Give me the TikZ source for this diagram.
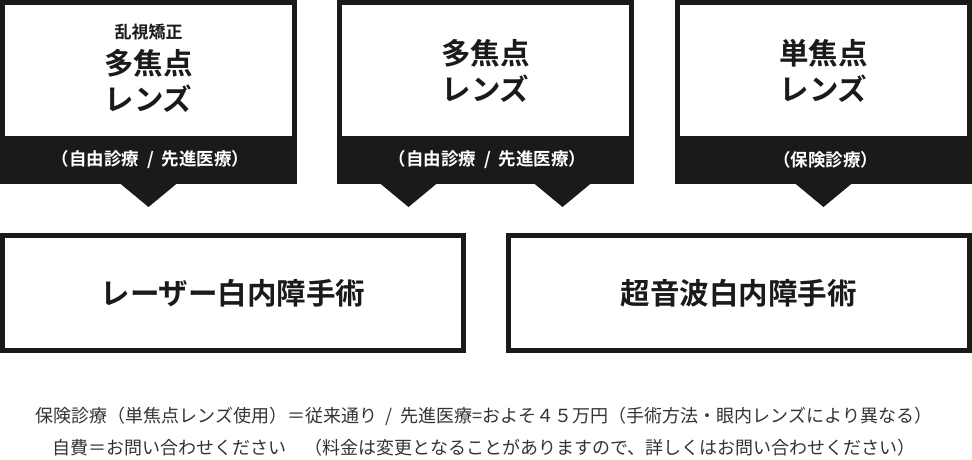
\documentclass[tikz,border=0pt]{standalone}
\usepackage{fontspec}
\setmainfont{Noto Sans CJK JP}[BoldFont={Noto Sans CJK JP Bold}]
\usepackage{tikz}
\usetikzlibrary{positioning, calc}
\definecolor{panelblack}{HTML}{1A1A1A}
\definecolor{notegray}{HTML}{333333}
\tikzstyle{pointer} = [fill=panelblack, draw=none]
\newcommand{\slashsep}{\hspace{0.45em}/\hspace{0.45em}}

\begin{document}
\begin{tikzpicture}[
    x=1pt, y=-1pt,
    every node/.style={inner sep=0pt, outer sep=0pt},
    panel/.style={rectangle, fill=panelblack, minimum width=297pt, minimum height=184pt},
    window/.style={rectangle, fill=white, minimum width=287pt, minimum height=131pt, anchor=north},
    title/.style={align=center, text=panelblack, font=\fontsize{29.5pt}{36pt}\selectfont\bfseries},
    subtitle/.style={text=panelblack, font=\fontsize{17pt}{20pt}\selectfont\bfseries},
    band/.style={text=white, font=\fontsize{17.5pt}{20pt}\selectfont\bfseries},
    surgery/.style={rectangle, draw=panelblack, line width=5pt, fill=white, minimum width=461pt, minimum height=115pt, text=panelblack, font=\fontsize{29.5pt}{36pt}\selectfont\bfseries},
    note/.style={text=notegray, font=\fontsize{18pt}{22pt}\selectfont}
  ]
  \useasboundingbox (0,0) rectangle (972,459);

  % Lens panels
  \node (toricP) [panel] at (148.5,92) {};
  \node (multiP) [panel] at (485.5,92) {};
  \node (monoP) [panel] at (823.5,92) {};

  \node (toricW) [window] at ($(toricP.north)+(0,5)$) {};
  \node (multiW) [window] at ($(multiP.north)+(0,5)$) {};
  \node (monoW) [window] at ($(monoP.north)+(0,5)$) {};

  % Panel titles
  \node (toricS) [subtitle] at (148.5,32) {乱視矯正};
  \node (toricT) [title] at (148.5,81) {多焦点\\レンズ};
  \node (multiT) [title] at (multiW) {多焦点\\レンズ};
  \node (monoT) [title] at (monoW) {単焦点\\レンズ};

  % Band labels
  \node (toricB) [band] at ($(toricP.south)+(2,-24)$) {（自由診療\slashsep 先進医療）};
  \node (multiB) [band] at ($(multiP.south)+(2,-24)$) {（自由診療\slashsep 先進医療）};
  \node (monoB) [band] at ($(monoP.south)+(2,-24)$) {（保険診療）};

  % Pointers
  \fill [pointer] ($(toricP.south)+(-29,-1)$) -- ($(toricP.south)+(29,-1)$) -- ($(toricP.south)+(0,23)$) -- cycle;
  \fill [pointer] ($(multiP.south)+(-106,-1)$) -- ($(multiP.south)+(-48,-1)$) -- ($(multiP.south)+(-77,23)$) -- cycle;
  \fill [pointer] ($(multiP.south)+(48,-1)$) -- ($(multiP.south)+(106,-1)$) -- ($(multiP.south)+(77,23)$) -- cycle;
  \fill [pointer] ($(monoP.south)+(-29,-1)$) -- ($(monoP.south)+(29,-1)$) -- ($(monoP.south)+(0,23)$) -- cycle;

  % Surgery boxes
  \node (laser) [surgery] at (233,293) {レーザー白内障手術};
  \node (phaco) [surgery] at (738.5,293) {超音波白内障手術};

  % Notes
  \node (noteFee) [note] at (484,416) {保険診療（単焦点レンズ使用）＝従来通り\slashsep 先進医療=およそ４５万円（手術方法・眼内レンズにより異なる）};
  \node (noteSelf) [note] at (484,448) {自費＝お問い合わせください　（料金は変更となることがありますので、詳しくはお問い合わせください）};
\end{tikzpicture}
\end{document}
